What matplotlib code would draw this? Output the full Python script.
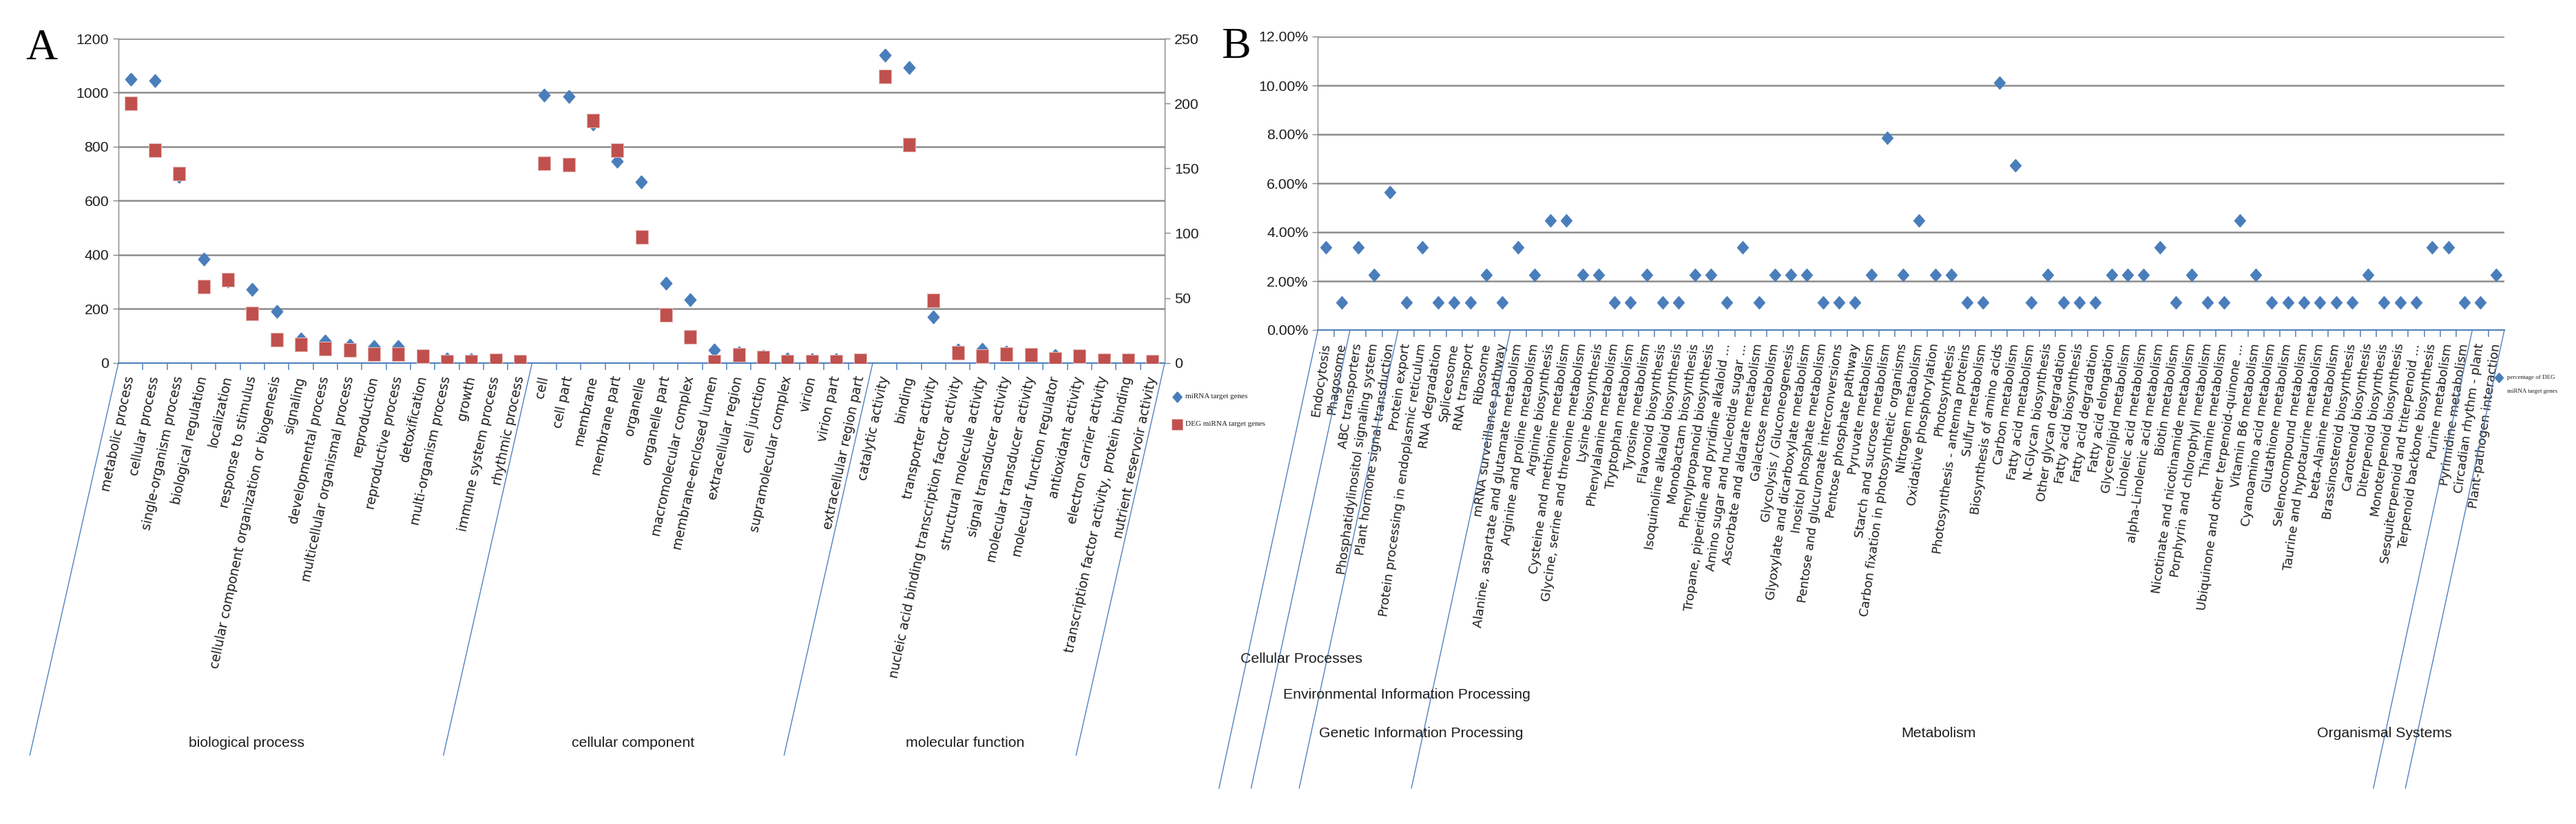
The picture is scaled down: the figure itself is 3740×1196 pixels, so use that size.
import numpy as np
import matplotlib
matplotlib.use("Agg")
import matplotlib.pyplot as plt
from matplotlib import font_manager
from matplotlib.lines import Line2D
from matplotlib.ticker import MultipleLocator, FuncFormatter
from matplotlib.transforms import IdentityTransform

# ---------------- panel A: GO classification ----------------
bp_terms = ["metabolic process", "cellular process", "single-organism process",
            "biological regulation", "localization", "response to stimulus",
            "cellular component organization or biogenesis", "signaling",
            "developmental process", "multicellular organismal process",
            "reproduction", "reproductive process", "detoxification",
            "multi-organism process", "growth", "immune system process",
            "rhythmic process"]
cc_terms = ["cell", "cell part", "membrane", "membrane part", "organelle",
            "organelle part", "macromolecular complex", "membrane-enclosed lumen",
            "extracellular region", "cell junction", "supramolecular complex",
            "virion", "virion part", "extracellular region part"]
mf_terms = ["catalytic activity", "binding", "transporter activity",
            "nucleic acid binding transcription factor activity",
            "structural molecule activity", "signal transducer activity",
            "molecular transducer activity", "molecular function regulator",
            "antioxidant activity", "electron carrier activity",
            "transcription factor activity, protein binding",
            "nutrient reservoir activity"]
go_groups = ["biological process", "cellular component", "molecular function"]

# miRNA target genes (left axis)
bp_mirna = [1050, 1045, 690, 383, 303, 271, 191, 88, 82, 66, 60, 61, 25, 15, 13, 10, 5]
cc_mirna = [991, 987, 884, 745, 669, 296, 233, 48, 38, 25, 14, 11, 11, 5]
mf_mirna = [1140, 1092, 171, 47, 50, 40, 25, 27, 15, 12, 12, 5]
# DEG miRNA target genes (right axis)
bp_deg = [200, 164, 146, 59, 64, 38, 18, 14, 11, 10, 7, 7, 5, 1, 1, 2, 1]
cc_deg = [154, 153, 187, 164, 97, 37, 20, 1, 6, 4, 1, 1, 1, 2]
mf_deg = [221, 168, 48, 8, 5, 7, 6, 3, 5, 2, 2, 1]

# ---------------- panel B: KEGG pathways ----------------
kegg_cellular = ["Endocytosis", "Phagosome"]
kegg_env = ["ABC transporters", "Phosphatidylinositol signaling system",
            "Plant hormone signal transduction"]
kegg_genetic = ["Protein export", "Protein processing in endoplasmic reticulum",
                "RNA degradation", "Spliceosome", "RNA transport", "Ribosome",
                "mRNA surveillance pathway"]
kegg_metab = ["Alanine, aspartate and glutamate metabolism",
              "Arginine and proline metabolism", "Arginine biosynthesis",
              "Cysteine and methionine metabolism",
              "Glycine, serine and threonine metabolism", "Lysine biosynthesis",
              "Phenylalanine metabolism", "Tryptophan metabolism",
              "Tyrosine metabolism", "Flavonoid biosynthesis",
              "Isoquinoline alkaloid biosynthesis", "Monobactam biosynthesis",
              "Phenylpropanoid biosynthesis",
              "Tropane, piperidine and pyridine alkaloid ...",
              "Amino sugar and nucleotide sugar ...",
              "Ascorbate and aldarate metabolism", "Galactose metabolism",
              "Glycolysis / Gluconeogenesis",
              "Glyoxylate and dicarboxylate metabolism",
              "Inositol phosphate metabolism",
              "Pentose and glucuronate interconversions",
              "Pentose phosphate pathway", "Pyruvate metabolism",
              "Starch and sucrose metabolism",
              "Carbon fixation in photosynthetic organisms",
              "Nitrogen metabolism", "Oxidative phosphorylation",
              "Photosynthesis", "Photosynthesis - antenna proteins",
              "Sulfur metabolism", "Biosynthesis of amino acids",
              "Carbon metabolism", "Fatty acid metabolism",
              "N-Glycan biosynthesis", "Other glycan degradation",
              "Fatty acid biosynthesis", "Fatty acid degradation",
              "Fatty acid elongation", "Glycerolipid metabolism",
              "Linoleic acid metabolism", "alpha-Linolenic acid metabolism",
              "Biotin metabolism", "Nicotinate and nicotinamide metabolism",
              "Porphyrin and chlorophyll metabolism", "Thiamine metabolism",
              "Ubiquinone and other terpenoid-quinone ...",
              "Vitamin B6 metabolism", "Cyanoamino acid metabolism",
              "Glutathione metabolism", "Selenocompound metabolism",
              "Taurine and hypotaurine metabolism", "beta-Alanine metabolism",
              "Brassinosteroid biosynthesis", "Carotenoid biosynthesis",
              "Diterpenoid biosynthesis", "Monoterpenoid biosynthesis",
              "Sesquiterpenoid and triterpenoid ...",
              "Terpenoid backbone biosynthesis", "Purine metabolism",
              "Pyrimidine metabolism"]
kegg_organismal = ["Circadian rhythm - plant", "Plant-pathogen interaction"]
kegg_groups = ["Cellular Processes", "Environmental Information Processing",
               "Genetic Information Processing", "Metabolism", "Organismal Systems"]

# percentage of DEG miRNA target genes (%)
pct_cellular = [3.37, 1.12]
pct_env = [3.37, 2.25, 5.62]
pct_genetic = [1.12, 3.37, 1.12, 1.12, 1.12, 2.25, 1.12]
pct_metab = [3.37, 2.25, 4.49, 4.49, 2.25, 2.25, 1.12, 1.12, 2.25, 1.12,
             1.12, 2.25, 2.25, 1.12, 3.37, 1.12, 2.25, 2.25, 2.25, 1.12,
             1.12, 1.12, 2.25, 7.87, 2.25, 4.49, 2.25, 2.25, 1.12, 1.12,
             10.11, 6.74, 1.12, 2.25, 1.12, 1.12, 1.12, 2.25, 2.25, 2.25,
             3.37, 1.12, 2.25, 1.12, 1.12, 4.49, 2.25, 1.12, 1.12, 1.12,
             1.12, 1.12, 1.12, 2.25, 1.12, 1.12, 1.12, 3.37, 3.37, 1.12]
pct_organismal = [1.12, 2.25]

# ---------------- style ----------------
BLUE = "#4A7EBB"
AXBLUE = "#4F81BD"
RED = "#C0504D"
GRID = "#8C8C8C"
TXT = "#1E1E1E"
W, H = 3741, 1196

avail = {f.name for f in font_manager.fontManager.ttflist}
NARROW = "Liberation Sans Narrow" if "Liberation Sans Narrow" in avail else "Liberation Sans"
ns = 1.0 if NARROW == "Liberation Sans Narrow" else 0.9
SERIF = "Liberation Serif"
plt.rcParams["font.family"] = ["DejaVu Sans"]

DIAMOND = [(0, 1), (0.88, 0), (0, -1), (-0.88, 0), (0, 1)]
RECT = [(-0.45, -0.5), (0.45, -0.5), (0.45, 0.5), (-0.45, 0.5), (-0.45, -0.5)]

fig = plt.figure(figsize=(W / 100, H / 100), dpi=100)


def px_axes(l, t, r, b):
    return fig.add_axes([l / W, 1 - b / H, (r - l) / W, (b - t) / H])


def category_axis(ax, labels, bounds, rot, size):
    n = len(labels)
    x = np.arange(n)
    ax.set_xlim(-0.5, n - 0.5)
    ax.set_xticks(x)
    ax.set_xticklabels(labels, rotation=rot, ha="right", va="center",
                       rotation_mode="anchor", fontsize=size, color=TXT)
    ax.tick_params(axis="x", which="major", length=0, pad=14)
    minor = [k - 0.5 for k in range(1, n) if k not in bounds]
    ax.set_xticks(minor, minor=True)
    ax.tick_params(axis="x", which="minor", length=7, width=1.1,
                   color=AXBLUE, direction="out")
    ax.spines["bottom"].set_color(AXBLUE)
    ax.spines["bottom"].set_linewidth(1.5)
    ax.spines["top"].set_visible(False)


def slanted(ax, bounds, y_end, slope):
    for k in bounds:
        x0, y0 = ax.transData.transform((k - 0.5, 0))
        ye = H - y_end
        xe = x0 - slope * (y0 - ye)
        fig.add_artist(Line2D([x0, xe], [y0, ye], transform=IdentityTransform(),
                              color=AXBLUE, lw=1.0))


def value_axis(ax, side):
    ax.spines[side].set_color("#868686")
    ax.spines[side].set_linewidth(1.0)
    ax.tick_params(axis="y", length=6, width=1.0, color="#868686",
                   direction="out", pad=4, labelsize=17 * ns, labelcolor=TXT)
    for t in ax.get_yticklabels():
        t.set_family(NARROW)


# ================= panel A =================
go_terms = bp_terms + cc_terms + mf_terms
go_mirna = bp_mirna + cc_mirna + mf_mirna
go_deg = bp_deg + cc_deg + mf_deg
go_bounds = [0, len(bp_terms), len(bp_terms) + len(cc_terms), len(go_terms)]

axA = px_axes(172, 56, 1691, 526.7)
xa = np.arange(len(go_terms))
axA.plot(xa, go_mirna, ls="none", marker=DIAMOND, ms=13.5, color=BLUE, zorder=3)
axA.set_ylim(0, 1200)
axA.yaxis.set_major_locator(MultipleLocator(200))
axA.yaxis.grid(True, color=GRID, lw=1.8)
axA.set_axisbelow(True)
category_axis(axA, go_terms, go_bounds, 78, 13.5)
axA.spines["right"].set_visible(False)
value_axis(axA, "left")

axA2 = axA.twinx()
axA2.plot(xa, go_deg, ls="none", marker=RECT, ms=14, mfc=RED,
          mec="#E6B9B8", mew=0.8, zorder=3)
axA2.set_ylim(0, 250)
axA2.yaxis.set_major_locator(MultipleLocator(50))
for s in ["left", "top", "bottom"]:
    axA2.spines[s].set_visible(False)
value_axis(axA2, "right")

slanted(axA, go_bounds, 1096, 0.226)
for name, gx in zip(go_groups, [358, 919, 1401]):
    fig.text(gx / W, 1 - 1078 / H, name, ha="center", va="center",
             family=NARROW, size=17 * ns, color=TXT)

# legend A
fig.add_artist(Line2D([1709 / W], [1 - 576 / H], marker=DIAMOND, ms=11, color=BLUE,
                      ls="none", transform=fig.transFigure))
fig.add_artist(Line2D([1709 / W], [1 - 616 / H], marker=RECT, ms=12, mfc=RED,
                      mec="#E6B9B8", mew=0.8, ls="none", transform=fig.transFigure))
fig.text(1721 / W, 1 - 576 / H, "miRNA target genes", family=SERIF, size=8,
         va="center", ha="left", color=TXT)
fig.text(1721 / W, 1 - 616 / H, "DEG miRNA target genes", family=SERIF, size=8,
         va="center", ha="left", color=TXT)

# ================= panel B =================
kegg_terms = kegg_cellular + kegg_env + kegg_genetic + kegg_metab + kegg_organismal
kegg_pct = pct_cellular + pct_env + pct_genetic + pct_metab + pct_organismal
sizes = [len(kegg_cellular), len(kegg_env), len(kegg_genetic), len(kegg_metab),
         len(kegg_organismal)]
kegg_bounds = [0] + list(np.cumsum(sizes))

axB = px_axes(1913.5, 53, 3636, 479)
xb = np.arange(len(kegg_terms))
axB.plot(xb, kegg_pct, ls="none", marker=DIAMOND, ms=13, color=BLUE, zorder=3)
axB.set_ylim(0, 12)
axB.yaxis.set_major_locator(MultipleLocator(2))
axB.yaxis.set_major_formatter(FuncFormatter(lambda v, p: f"{v:.2f}%"))
axB.yaxis.grid(True, color=GRID, lw=1.8)
axB.set_axisbelow(True)
category_axis(axB, kegg_terms, kegg_bounds, 82, 13)
axB.spines["right"].set_visible(False)
value_axis(axB, "left")

slanted(axB, kegg_bounds, 1144, 0.216)
for name, gx, gy in zip(kegg_groups, [1890, 2042, 2063, 2815, 3462],
                        [956, 1009, 1064, 1064, 1064]):
    fig.text(gx / W, 1 - gy / H, name, ha="center", va="center",
             family=NARROW, size=17 * ns, color=TXT)

# legend B
fig.add_artist(Line2D([3628 / W], [1 - 548 / H], marker=DIAMOND, ms=10, color=BLUE,
                      ls="none", transform=fig.transFigure))
fig.text(3640 / W, 1 - 548 / H, "percentage of DEG", family=SERIF, size=6.5,
         va="center", ha="left", color=TXT)
fig.text(3640 / W, 1 - 568 / H, "miRNA target genes", family=SERIF, size=6.5,
         va="center", ha="left", color=TXT)

# panel letters
fig.text(37 / W, 1 - 86 / H, "A", family=SERIF, size=46, va="baseline", ha="left")
fig.text(1773 / W, 1 - 84 / H, "B", family=SERIF, size=46, va="baseline", ha="left")

fig.savefig("out.png", dpi=100)
